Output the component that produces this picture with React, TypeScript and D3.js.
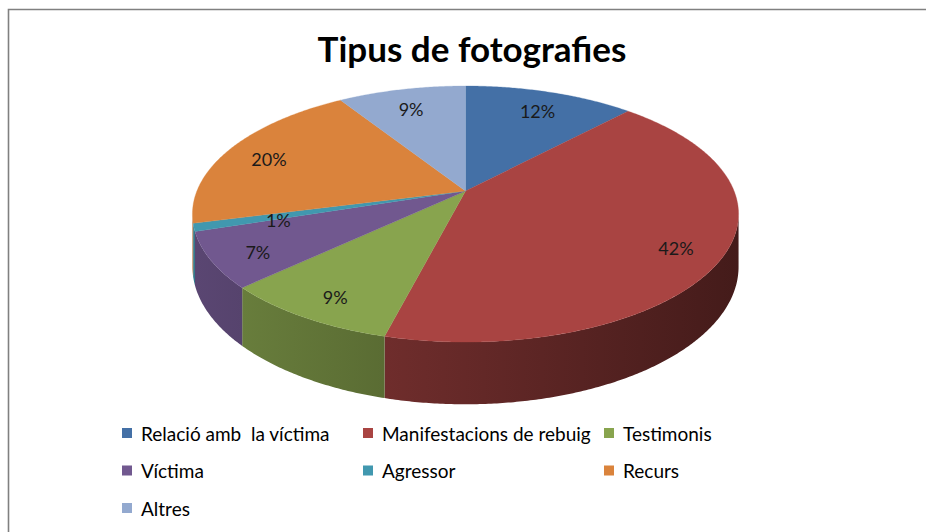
import React from "react";
import * as d3 from "d3";

const title = "Tipus de fotografies";
const categories = [
  "Relació amb  la víctima",
  "Manifestacions de rebuig",
  "Testimonis",
  "Víctima",
  "Agressor",
  "Recurs",
  "Altres",
];
const values = [12, 42, 9, 7, 1, 20, 9];
const colors = ["#4470A6", "#A94442", "#88A44E", "#71588F", "#4198AF", "#DA833C", "#93A9CF"];

const W = 926;
const H = 532;
// perspective ellipse parameters
const CX = 465.5;
const CY = 191;
const AX = 268.6;
const BZ = 123.9;
const P = 0.18;
const DEPTH = 51;

function proj(angle: number, r: number, drop = 0): [number, number] {
  const x = r * Math.sin(angle);
  const z = r * Math.cos(angle);
  const d = 1 + P * z;
  return [CX + (AX * x) / d, CY - (BZ * z) / d + drop / d];
}

function shadeF(X: number) {
  return 0.8 - (0.4 * (X - 193)) / 546;
}
function shade(color: string, f: number) {
  const c = d3.rgb(color);
  return d3.rgb(c.r * f, c.g * f, c.b * f).formatHex();
}

export default function App() {
  const total = d3.sum(values);
  const arcs = d3.pie<number>().sort(null).value((d) => d)(values);
  const step = Math.PI / 360;
  const tMin = Math.acos(-P);
  const tMax = 2 * Math.PI - tMin;

  const topPaths = arcs.map((a) => {
    const pts: [number, number][] = [[CX, CY]];
    const n = Math.max(2, Math.ceil((a.endAngle - a.startAngle) / step));
    for (let k = 0; k <= n; k++) {
      const t = a.startAngle + ((a.endAngle - a.startAngle) * k) / n;
      pts.push(proj(t, 1));
    }
    return d3.line()(pts)! + "Z";
  });

  const sides: { d: string; i: number; x0: number; x1: number }[] = [];
  arcs.forEach((a, i) => {
    const s = Math.max(a.startAngle, tMin);
    const e = Math.min(a.endAngle, tMax);
    if (s >= e) return;
    const n = Math.max(2, Math.ceil((e - s) / step));
    const topPts: [number, number][] = [];
    const botPts: [number, number][] = [];
    for (let k = 0; k <= n; k++) {
      const t = s + ((e - s) * k) / n;
      topPts.push(proj(t, 1));
      botPts.push(proj(t, 1, DEPTH));
    }
    const pts = topPts.concat(botPts.reverse());
    const xs = pts.map((p) => p[0]);
    sides.push({ d: d3.line()(pts)! + "Z", i, x0: d3.min(xs)!, x1: d3.max(xs)! });
  });

  const labels = arcs.map((a, i) => {
    const frac = values[i] / total;
    const r = frac < 0.03 ? 0.7 : 0.83;
    const mid = (a.startAngle + a.endAngle) / 2;
    const [x, y] = proj(mid, r);
    return { x, y: y + 4, text: Math.round(frac * 100) + "%" };
  });

  const legX0 = 122;
  const legColW = 241;
  const legY0 = 433;
  const legRowH = 37.5;

  return (
    <svg
      width={W}
      height={H}
      style={{ position: "absolute", left: 0, top: 0, background: "#fff" }}
      fontFamily="Lato, 'Open Sans', sans-serif"
    >
      <defs>
        {sides.map((s, k) => (
          <linearGradient key={k} id={`side${k}`} gradientUnits="userSpaceOnUse" x1={s.x0} y1={0} x2={s.x1} y2={0}>
            <stop offset="0" stopColor={shade(colors[s.i], shadeF(s.x0))} />
            <stop offset="1" stopColor={shade(colors[s.i], shadeF(s.x1))} />
          </linearGradient>
        ))}
      </defs>
      <rect x={0} y={0} width={W} height={H} fill="#fff" />
      <path d={`M8.5,${H} L8.5,9.5 L${W},9.5`} fill="none" stroke="#808080" strokeWidth={1.6} />
      <text x={472} y={62} textAnchor="middle" fontSize={35} fontWeight="bold" fill="#000">
        {title}
      </text>
      <g>
        {sides.map((s, k) => (
          <path key={k} d={s.d} fill={`url(#side${k})`} />
        ))}
      </g>
      <g>
        {topPaths.map((d, i) => (
          <path key={i} d={d} fill={colors[i]} stroke={colors[i]} strokeWidth={0.3} />
        ))}
      </g>
      <g>
        {labels.map((l, i) => (
          <text key={i} x={l.x} y={l.y} textAnchor="middle" dominantBaseline="central" fontSize={18} fill="#1a1a1a">
            {l.text}
          </text>
        ))}
      </g>
      <g>
        {categories.map((c, i) => {
          const col = i % 3;
          const row = Math.floor(i / 3);
          const x = legX0 + col * legColW;
          const y = legY0 + row * legRowH;
          return (
            <g key={i}>
              <rect x={x} y={y - 5} width={10} height={10} fill={colors[i]} />
              <text x={x + 19} y={y} dominantBaseline="central" fontSize={19} fill="#000" style={{ whiteSpace: "pre" }}>
                {c}
              </text>
            </g>
          );
        })}
      </g>
    </svg>
  );
}
